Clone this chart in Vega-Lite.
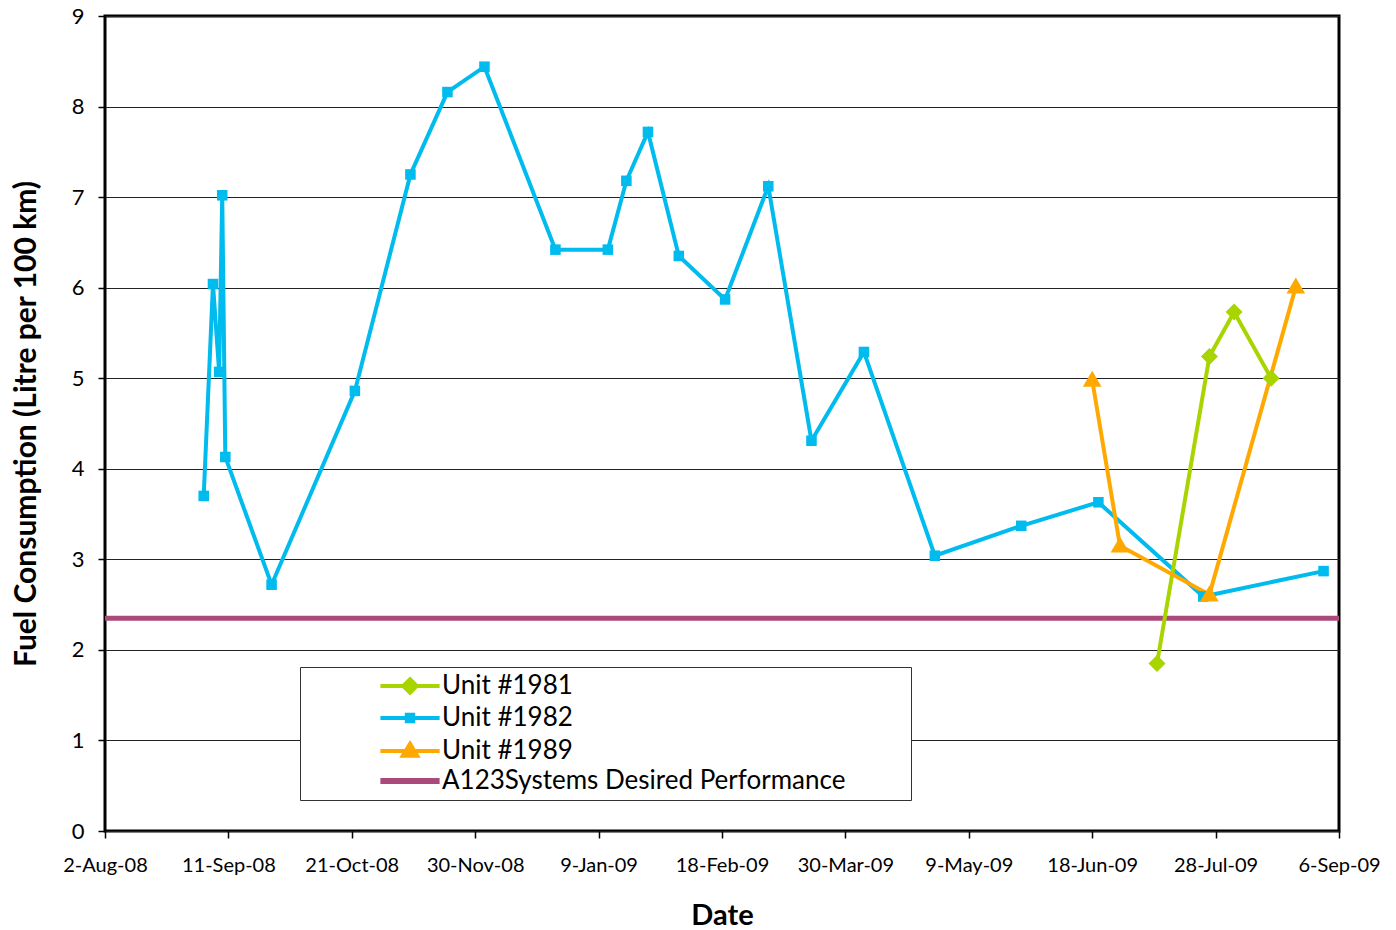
{
  "$schema": "https://vega.github.io/schema/vega-lite/v6.json",
  "width": 1234,
  "height": 815,
  "autosize": {"type": "none"},
  "padding": {"left": 105, "top": 16, "right": 57, "bottom": 99},
  "background": "white",
  "config": {
    "view": {"stroke": "black", "strokeWidth": 3},
    "font": "Lato",
    "axis": {"labelColor": "black", "titleColor": "black", "labelFont": "Lato", "titleFont": "Lato", "tickColor": "black", "tickWidth": 1.5, "tickSize": 7, "domain": false}
  },
  "datasets": {
    "units": [
      {"unit": "Unit #1982", "date": "2008-09-03", "value": 3.70},
      {"unit": "Unit #1982", "date": "2008-09-06", "value": 6.04},
      {"unit": "Unit #1982", "date": "2008-09-08", "value": 5.07},
      {"unit": "Unit #1982", "date": "2008-09-09", "value": 7.02},
      {"unit": "Unit #1982", "date": "2008-09-10", "value": 4.13},
      {"unit": "Unit #1982", "date": "2008-09-25", "value": 2.72},
      {"unit": "Unit #1982", "date": "2008-10-22", "value": 4.86},
      {"unit": "Unit #1982", "date": "2008-11-09", "value": 7.25},
      {"unit": "Unit #1982", "date": "2008-11-21", "value": 8.16},
      {"unit": "Unit #1982", "date": "2008-12-03", "value": 8.44},
      {"unit": "Unit #1982", "date": "2008-12-26", "value": 6.42},
      {"unit": "Unit #1982", "date": "2009-01-12", "value": 6.42},
      {"unit": "Unit #1982", "date": "2009-01-18", "value": 7.18},
      {"unit": "Unit #1982", "date": "2009-01-25", "value": 7.72},
      {"unit": "Unit #1982", "date": "2009-02-04", "value": 6.35},
      {"unit": "Unit #1982", "date": "2009-02-19", "value": 5.87},
      {"unit": "Unit #1982", "date": "2009-03-05", "value": 7.12},
      {"unit": "Unit #1982", "date": "2009-03-19", "value": 4.31},
      {"unit": "Unit #1982", "date": "2009-04-05", "value": 5.29},
      {"unit": "Unit #1982", "date": "2009-04-28", "value": 3.04},
      {"unit": "Unit #1982", "date": "2009-05-26", "value": 3.37},
      {"unit": "Unit #1982", "date": "2009-06-20", "value": 3.63},
      {"unit": "Unit #1982", "date": "2009-07-24", "value": 2.59},
      {"unit": "Unit #1982", "date": "2009-09-01", "value": 2.87},
      {"unit": "Unit #1981", "date": "2009-07-09", "value": 1.85},
      {"unit": "Unit #1981", "date": "2009-07-26", "value": 5.24},
      {"unit": "Unit #1981", "date": "2009-08-03", "value": 5.73},
      {"unit": "Unit #1981", "date": "2009-08-15", "value": 5.00},
      {"unit": "Unit #1989", "date": "2009-06-18", "value": 4.98},
      {"unit": "Unit #1989", "date": "2009-06-27", "value": 3.15},
      {"unit": "Unit #1989", "date": "2009-07-26", "value": 2.61},
      {"unit": "Unit #1989", "date": "2009-08-23", "value": 6.01}
    ],
    "target": [
      {"unit": "A123Systems Desired Performance", "value": 2.35}
    ]
  },
  "encoding": {
    "y": {
      "field": "value", "type": "quantitative",
      "scale": {"domain": [0, 9]},
      "axis": {
        "title": "Fuel Consumption (Litre per 100 km)",
        "values": [0, 1, 2, 3, 4, 5, 6, 7, 8, 9],
        "format": "d",
        "grid": true,
        "gridColor": "#222",
        "gridWidth": 1,
        "labelFontSize": 22,
        "labelPadding": 14,
        "titleFontSize": 30,
        "titleFontWeight": "bold",
        "titlePadding": 30
      }
    },
    "color": {
      "field": "unit", "type": "nominal",
      "scale": {
        "domain": ["Unit #1981", "Unit #1982", "Unit #1989", "A123Systems Desired Performance"],
        "range": ["#a8d400", "#00bbee", "#ffa800", "#aa4a7a"]
      },
      "legend": {
        "title": null,
        "orient": "none",
        "legendX": 195,
        "legendY": 651,
        "direction": "vertical",
        "strokeColor": "#333",
        "fillColor": "white",
        "padding": 6,
        "rowPadding": 4,
        "symbolSize": 1024,
        "symbolOffset": 91,
        "labelOffset": 19,
        "labelFontSize": 26,
        "labelFont": "Lato",
        "labelColor": "black",
        "labelLimit": 800,
        "labelExpr": "datum.label === 'A123Systems Desired Performance' ? datum.label + '\u2003\u2003\u2002\u00a0\u200b' : datum.label",
        "encode": {
          "symbols": {
            "update": {
              "shape": {"signal": "datum.value === 'Unit #1981' ? 'M-1.85,0H1.85M0,-0.42L0.42,0L0,0.42L-0.42,0Z' : datum.value === 'Unit #1982' ? 'M-1.85,0H1.85M-0.2,-0.2H0.2V0.2H-0.2Z' : datum.value === 'Unit #1989' ? 'M-1.85,0H1.85M0,-0.45L0.45,0.3H-0.45Z' : 'M-1.85,0H1.85'"},
              "fill": {"signal": "scale('color', datum.value)"},
              "stroke": {"signal": "scale('color', datum.value)"},
              "strokeWidth": {"signal": "datum.value === 'A123Systems Desired Performance' ? 6 : 4"},
              "opacity": {"value": 1},
              "fillOpacity": {"value": 1}
            }
          }
        }
      }
    }
  },
  "layer": [
    {
      "data": {"name": "target"},
      "mark": {"type": "rule", "strokeWidth": 5}
    },
    {
      "data": {"name": "units"},
      "mark": {"type": "line", "strokeWidth": 4},
      "encoding": {
        "x": {
          "field": "date", "type": "temporal",
          "scale": {"type": "utc", "domain": [{"year": 2008, "month": 8, "date": 2, "utc": true}, {"year": 2009, "month": 9, "date": 6, "utc": true}]},
          "axis": {
            "title": "Date",
            "labelExpr": "utcFormat(datum.value, '%-d-%b-%y')",
            "values": [
              {"year": 2008, "month": 8, "date": 2, "utc": true},
              {"year": 2008, "month": 9, "date": 11, "utc": true},
              {"year": 2008, "month": 10, "date": 21, "utc": true},
              {"year": 2008, "month": 11, "date": 30, "utc": true},
              {"year": 2009, "month": 1, "date": 9, "utc": true},
              {"year": 2009, "month": 2, "date": 18, "utc": true},
              {"year": 2009, "month": 3, "date": 30, "utc": true},
              {"year": 2009, "month": 5, "date": 9, "utc": true},
              {"year": 2009, "month": 6, "date": 18, "utc": true},
              {"year": 2009, "month": 7, "date": 28, "utc": true},
              {"year": 2009, "month": 9, "date": 6, "utc": true}
            ],
            "grid": false,
            "labelFontSize": 20,
            "labelPadding": 17,
            "labelOverlap": false,
            "labelFlush": false,
            "labelBound": false,
            "titleFontSize": 29,
            "titleFontWeight": "bold",
            "titlePadding": 26
          }
        }
      }
    },
    {
      "data": {"name": "units"},
      "mark": {"type": "point", "filled": true, "opacity": 1, "size": 289},
      "encoding": {
        "x": {"field": "date", "type": "temporal"},
        "shape": {
          "field": "unit", "type": "nominal",
          "scale": {"domain": ["Unit #1981", "Unit #1982", "Unit #1989"], "range": ["M0,-1L1,0L0,1L-1,0Z", "M-0.62,-0.62H0.62V0.62H-0.62Z", "M0,-1.1L1.1,0.8H-1.1Z"]},
          "legend": null
        }
      }
    }
  ]
}
